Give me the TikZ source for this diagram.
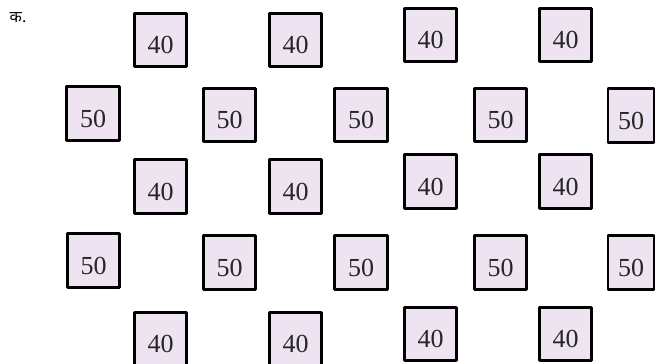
\documentclass[tikz,border=0pt]{standalone}
\usepackage{fontspec}
\usepackage{xcolor}
\usepackage{tikz}
\newfontfamily\devfont[Script=Devanagari]{Noto Sans}
\newfontfamily\numfont{Liberation Serif}
\definecolor{boxfill}{RGB}{238,227,240}

\begin{document}
\begin{tikzpicture}[x=1pt,y=-1pt,line join=round,
  numbox/.style={draw=black,line width=2.6pt,fill=boxfill,minimum width=52.5pt,
    minimum height=53.5pt,inner sep=0pt,text height=27pt,text depth=0pt,
    text=black!85,font=\numfont\fontsize{26}{30}\selectfont}]
  \useasboundingbox (0,0) rectangle (656,364);
  \node[font=\devfont\fontsize{16}{18}\selectfont] (K) at (18,18) {क.};
  \node[numbox] (A1) at (160.5,40.0) {40};
  \node[numbox] (A2) at (295.5,40.0) {40};
  \node[numbox] (A3) at (430.5,35.0) {40};
  \node[numbox] (A4) at (565.5,35.0) {40};
  \node[numbox] (B1) at (93.0,113.5) {50};
  \node[numbox] (B2) at (229.5,115.0) {50};
  \node[numbox] (B3) at (361.0,115.0) {50};
  \node[numbox] (B4) at (500.5,115.0) {50};
  \node[numbox,minimum width=46pt] (B5) at (631.0,115.5) {50};
  \node[numbox] (C1) at (160.5,186.5) {40};
  \node[numbox] (C2) at (295.5,186.5) {40};
  \node[numbox] (C3) at (430.5,181.5) {40};
  \node[numbox] (C4) at (565.5,181.5) {40};
  \node[numbox] (D1) at (93.5,260.5) {50};
  \node[numbox] (D2) at (229.5,262.5) {50};
  \node[numbox] (D3) at (361.0,262.5) {50};
  \node[numbox] (D4) at (500.5,262.5) {50};
  \node[numbox,minimum width=46pt] (D5) at (631.0,262.5) {50};
  \node[numbox] (E1) at (160.5,339.0) {40};
  \node[numbox] (E2) at (295.5,339.0) {40};
  \node[numbox] (E3) at (430.5,334.0) {40};
  \node[numbox] (E4) at (565.5,334.0) {40};
\end{tikzpicture}
\end{document}
